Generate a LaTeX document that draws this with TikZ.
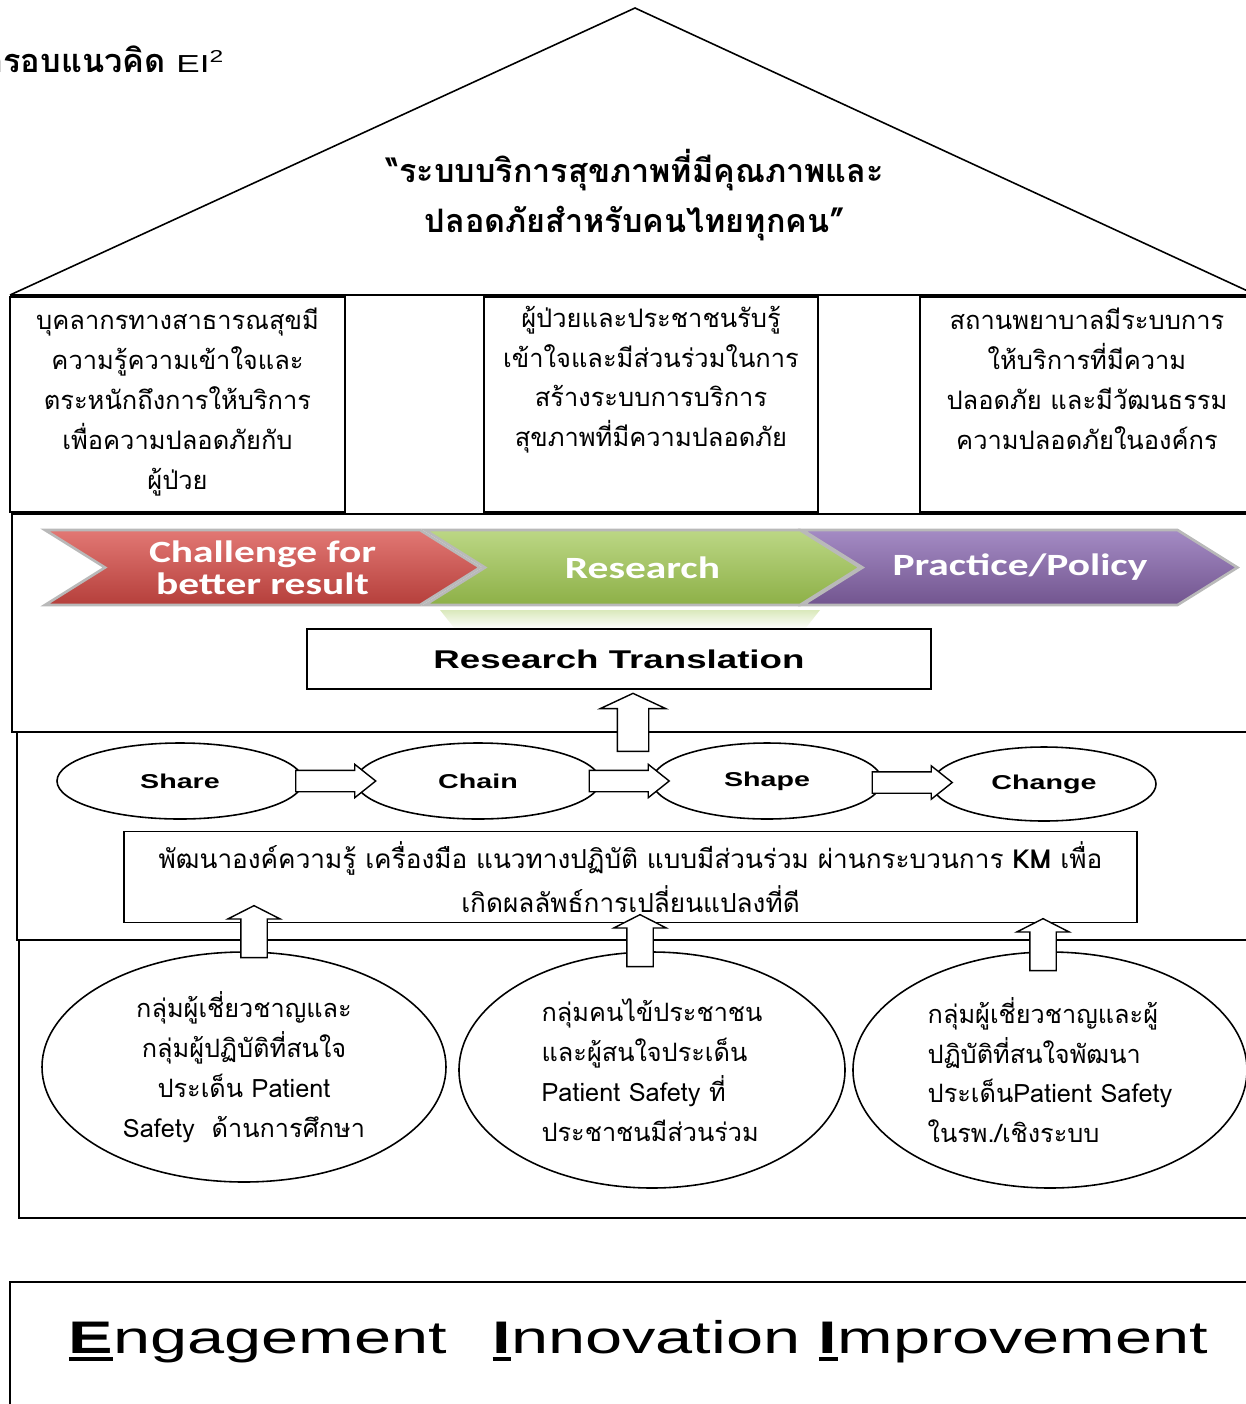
\documentclass[tikz,border=0pt]{standalone}
\usepackage{fontspec}
\newfontfamily\thai[Script=Thai]{Loma}
\newfontfamily\calib[FakeStretch=1.34]{Carlito}
\newfontfamily\ari[FakeStretch=1.43]{Liberation Sans}
\newfontfamily\ariwide[FakeStretch=1.46]{Liberation Sans}
\usetikzlibrary{shapes.geometric,shapes.symbols,shapes.arrows,calc,positioning}

\newcommand\pxl{0.02cm}
\newcommand\firstl[1]{\setbox0\hbox{\bfseries#1}\rlap{\rule[-4.5pt]{\wd0}{2.3pt}}\box0}

\definecolor{redtop}{HTML}{E27874}
\definecolor{redbot}{HTML}{B53F3B}
\definecolor{greentop}{HTML}{BCD785}
\definecolor{greenbot}{HTML}{8DB047}
\definecolor{purptop}{HTML}{A48BC4}
\definecolor{purpbot}{HTML}{72558F}

\begin{document}
\begin{tikzpicture}[x=0.02cm,y=-0.02cm,line width=0.9pt,
    box/.style={draw,rectangle,line width=1pt,inner sep=0pt},
    boxtext/.style={align=center,inner sep=0pt,font=\thai\fontsize{14.5}{22.7}\selectfont},
    chev/.style={signal,signal from=west,signal to=east,signal pointer angle=64,
                 draw=gray!55,line width=1.5pt,minimum width=435*\pxl,minimum height=75*\pxl,
                 inner sep=0pt,text=white,align=center,
                 font=\calib\bfseries\fontsize{17.6}{18.2}\selectfont},
    step oval/.style={ellipse,draw,fill=white,inner sep=0pt,minimum height=76*\pxl,
                 font=\ari\bfseries\fontsize{11.4}{13}\selectfont},
    group oval/.style={ellipse,draw,fill=white,inner sep=0pt,
                 font=\thai\fontsize{14.4}{22.7}\selectfont},
    rarrow/.style={single arrow,draw,fill=white,line width=0.8pt,inner xsep=0pt,inner ysep=10*\pxl,
                 single arrow head extend=6*\pxl,minimum width=32*\pxl,minimum height=80*\pxl,
                 single arrow tip angle=77},
    bigup/.style={single arrow,draw,fill=white,line width=0.8pt,rotate=90,inner xsep=0pt,inner ysep=15*\pxl,
                 single arrow head extend=17*\pxl,minimum width=64*\pxl,minimum height=58*\pxl,
                 single arrow tip angle=130},
    smallup/.style={single arrow,draw,fill=white,line width=0.8pt,rotate=90,inner xsep=0pt,inner ysep=12.5*\pxl,
                 single arrow head extend=13*\pxl,minimum width=51*\pxl,minimum height=52*\pxl,
                 single arrow tip angle=126}]

  \useasboundingbox (0,0) rectangle (1245,1404);

  % roof
  \draw (10,295) -- (635,8) -- (1252,293);
  \draw (10,295) -- (1252,295);
  \node[anchor=base west,inner sep=0pt] (title) at (-17,72)
    {\thai\bfseries\fontsize{18.5}{20}\selectfont กรอบแนวคิด {\ari\mdseries\fontsize{14}{15}\selectfont EI\textsuperscript{2}}};
  \node[align=center,inner sep=0pt,font=\thai\bfseries\fontsize{18.4}{28.3}\selectfont] (vision) at (635,195)
    {“ระบบบริการสุขภาพที่มีคุณภาพและ\\ปลอดภัยสำหรับคนไทยทุกคน”};

  % pillars
  \node[box,minimum width=335*\pxl,minimum height=215*\pxl] (b1) at (177.5,404.5) {};
  \node[box,minimum width=334*\pxl,minimum height=215*\pxl] (b2) at (651,404.5) {};
  \node[box,minimum width=340*\pxl,minimum height=215*\pxl] (b3) at (1090,404.5) {};
  \node[boxtext,below=0.22cm of b1.north] (t1)
    {บุคลากรทางสาธารณสุขมี\\ความรู้ความเข้าใจและ\\ตระหนักถึงการให้บริการ\\เพื่อความปลอดภัยกับ\\ผู้ป่วย};
  \node[boxtext,below=0.18cm of b2.north] (t2)
    {ผู้ป่วยและประชาชนรับรู้\\เข้าใจและมีส่วนร่วมในการ\\สร้างระบบการบริการ\\สุขภาพที่มีความปลอดภัย};
  \node[boxtext,below=0.22cm of b3.north,xshift=-0.06cm] (t3)
    {สถานพยาบาลมีระบบการ\\ให้บริการที่มีความ\\ปลอดภัย และมีวัฒนธรรม\\ความปลอดภัยในองค์กร};

  % frames
  \draw[line width=1pt] (12,514) rectangle (1260,732);
  \draw[line width=1pt] (17,732) rectangle (1260,940);
  \draw[line width=1pt] (19,940) rectangle (1260,1218);

  % chevrons
  \node[chev,top color=redtop,bottom color=redbot] (challenge) at (262.5,567.5) {Challenge for\\better result};
  \node[chev,top color=greentop,bottom color=greenbot] (research) at (642.5,567.5) {Research};
  \node[chev,top color=purptop,bottom color=purpbot] (practice) at (1020,567.5) {Practice/Policy};
  \shade[top color=greentop!55,bottom color=white,draw=none] (440,610) -- (820,610) -- (805,629) -- (455,629) -- cycle;

  \node[box,fill=white,minimum width=624*\pxl,minimum height=60*\pxl,
        font=\ari\bfseries\fontsize{14.6}{16}\selectfont] (rt) at (619,659) {Research Translation};

  % 4S
  \node[step oval,minimum width=246*\pxl] (share) at (180,781) {Share};
  \node[step oval,minimum width=244*\pxl] (chain) at (478,781) {Chain};
  \node[step oval,minimum width=230*\pxl] (shape) at (767,781) {Shape};
  \node[step oval,minimum width=224*\pxl,minimum height=74*\pxl] (change) at (1044,784) {Change};

  \node[box,minimum width=1013*\pxl,minimum height=91*\pxl,align=center,
        font=\thai\fontsize{14.9}{24.9}\selectfont] (km) at (630.5,877)
    {พัฒนาองค์ความรู้ เครื่องมือ แนวทางปฏิบัติ แบบมีส่วนร่วม ผ่านกระบวนการ \textbf{KM} เพื่อ\\เกิดผลลัพธ์การเปลี่ยนแปลงที่ดี};

  % groups
  \node[group oval,minimum width=404*\pxl,minimum height=230*\pxl,align=center] (g1) at (244,1067)
    {กลุ่มผู้เชี่ยวชาญและ\\กลุ่มผู้ปฏิบัติที่สนใจ\\ประเด็น Patient\\Safety~~ด้านการศึกษา};
  \node[group oval,minimum width=386*\pxl,minimum height=236*\pxl,align=left] (g2) at (652,1070)
    {กลุ่มคนไข้ประชาชน\\และผู้สนใจประเด็น\\Patient Safety ที่\\ประชาชนมีส่วนร่วม};
  \node[group oval,minimum width=394*\pxl,minimum height=236*\pxl,align=left] (g3) at (1050,1070)
    {กลุ่มผู้เชี่ยวชาญและผู้\\ปฏิบัติที่สนใจพัฒนา\\ประเด็นPatient Safety\\ในรพ./เชิงระบบ};

  % block arrows
  \node[rarrow] (a1) at ($(share.center)!.5!(chain.center)$) {};
  \node[rarrow] (a2) at ($(chain.center)!.5!(shape.center)$) {};
  \node[rarrow] (a3) at ($(shape.center)!.5!(change.center)$) {};
  \node[bigup] (up) at (633,726) {};
  \node[smallup] (u1) at (254,935) {};
  \node[smallup] (u2) at (640,944) {};
  \node[smallup] (u3) at (1043,948) {};

  % EII
  \draw[line width=1pt] (10,1420) -- (10,1282) -- (1260,1282);
  \node[anchor=base west,inner sep=0pt,font=\ariwide\fontsize{26}{30}\selectfont] (eii) at (68,1353)
    {\firstl{E}ngagement\hspace{26pt}\firstl{I}nnovation \firstl{I}mprovement};
\end{tikzpicture}
\end{document}
